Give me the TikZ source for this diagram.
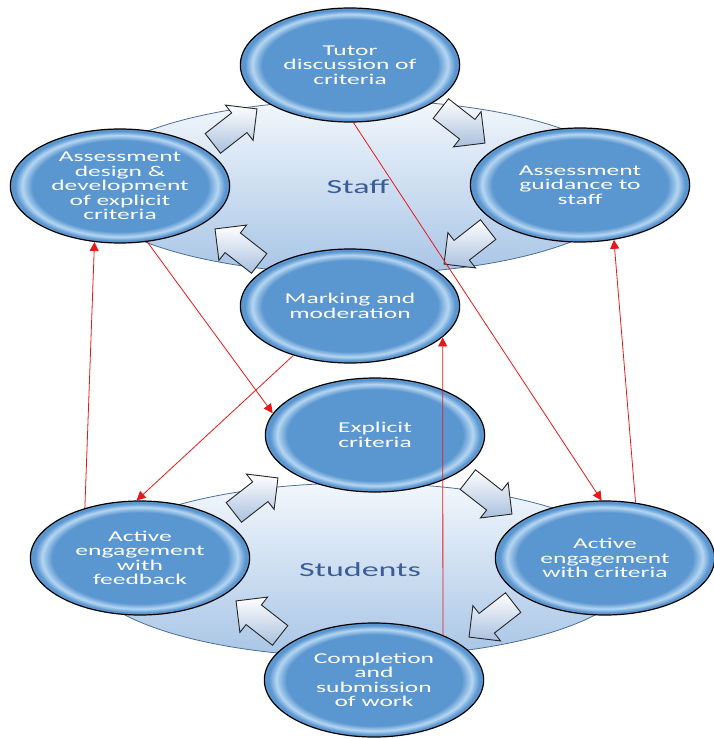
\documentclass[tikz,border=0pt]{standalone}
\usepackage{fontspec}
\setmainfont{Carlito}
\usetikzlibrary{shapes.geometric,shapes.arrows,arrows.meta}

\definecolor{stageblue}{HTML}{5A96D0}
\definecolor{stagerim}{HTML}{B5D6F2}
\definecolor{cycletop}{HTML}{F2F7FC}
\definecolor{cyclebottom}{HTML}{A8C5E6}
\definecolor{cycleline}{HTML}{4C6F98}
\definecolor{cycletext}{HTML}{3C5C98}
\definecolor{turnblue}{HTML}{A9C0DE}
\definecolor{linkred}{HTML}{E81818}

\pgfdeclareradialshading{stageglass}{\pgfpoint{0bp}{0bp}}{%
  color(0bp)=(stageblue); color(20bp)=(stageblue); color(22.3bp)=(stagerim);
  color(24bp)=(stageblue); color(25bp)=(stageblue); color(50bp)=(stageblue)}

\begin{document}
\begin{tikzpicture}[x=1pt, y=-1pt,
  cyclebg/.style={ellipse, draw=cycleline, line width=0.8pt, top color=cycletop,
    bottom color=cyclebottom, minimum width=323pt, minimum height=174pt, xscale=1.7,
    text=cycletext, font=\fontsize{20}{22}\selectfont},
  stage/.style={ellipse, draw=black, line width=1.2pt, shading=stageglass,
    minimum width=129pt, minimum height=114pt, inner sep=0pt, xscale=1.7,
    align=center, text=white, font=\fontsize{15}{14.5}\selectfont},
  turn/.style={single arrow, draw=black!85, line width=0.9pt, top color=white,
    bottom color=turnblue, minimum height=56pt, inner xsep=0pt, inner ysep=12pt,
    single arrow head extend=10pt},
  link/.style={draw=linkred, line width=0.8pt, -{Triangle[length=9pt,width=9pt]}}]
  \useasboundingbox (0,0) rectangle (713,739);

  % The two cycles
  \node[cyclebg] (staff) at (358,187) {Staff};
  \node[cyclebg] (students) at (360,570) {Students};

  % Arrows round the staff cycle
  \node[turn, rotate=38] (staffturn1) at (230,130) {};
  \node[turn, rotate=-38] (staffturn2) at (458,122) {};
  \node[turn, rotate=-142] (staffturn3) at (471,243) {};
  \node[turn, rotate=142] (staffturn4) at (242,250) {};

  % Arrows round the students cycle
  \node[turn, rotate=38] (studturn1) at (251,499) {};
  \node[turn, rotate=-38] (studturn2) at (485,493) {};
  \node[turn, rotate=-142] (studturn3) at (496,616) {};
  \node[turn, rotate=142] (studturn4) at (263,622) {};

  % Staff stages
  \node[stage] (tutor) at (350,65) {Tutor\\discussion of\\criteria};
  \node[stage] (design) at (120,186) {Assessment\\design \&\\development\\of explicit\\criteria};
  \node[stage] (guidance) at (580,185) {Assessment\\guidance to\\staff};
  \node[stage] (marking) at (350,306) {Marking and\\moderation};

  % Student stages
  \node[stage] (explicit) at (375,435) {Explicit\\criteria};
  \node[stage] (feedback) at (140,558) {Active\\engagement\\with\\feedback};
  \node[stage] (engage) at (605,558) {Active\\engagement\\with criteria};
  \node[stage] (completion) at (374,680) {Completion\\and\\submission\\of work};

  % Links between the cycles
  \draw[link] (feedback.123) -- (design.255);
  \draw[link] (design.286) -- (explicit.160);
  \draw[link] (marking.236) -- (feedback.92);
  \draw[link] (completion.48) -- (marking.330);
  \draw[link] (tutor.272) -- (engage.92);
  \draw[link] (engage.72) -- (guidance.290);
\end{tikzpicture}
\end{document}
